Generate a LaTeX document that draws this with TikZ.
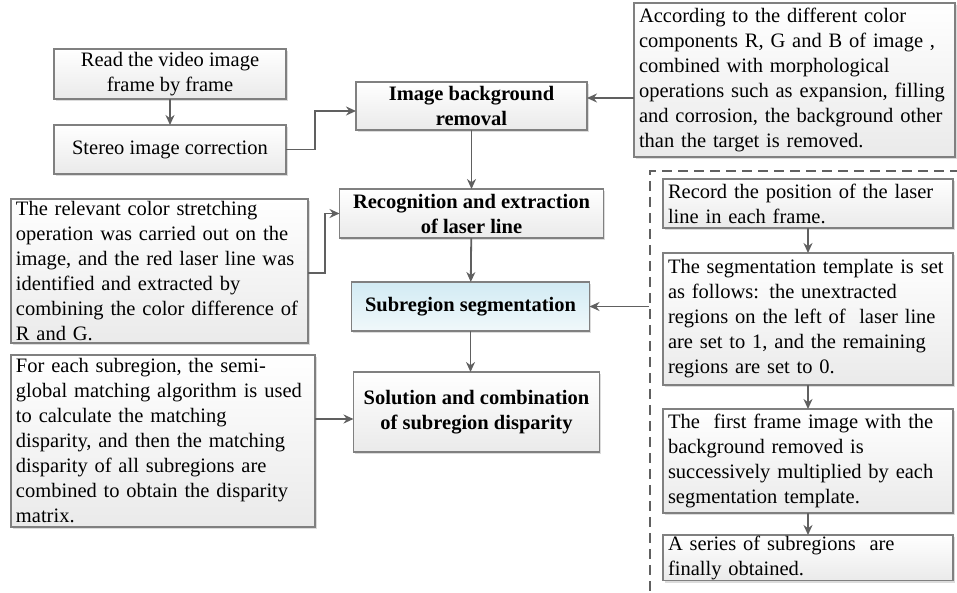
\documentclass[tikz,border=0pt]{standalone}
\usepackage{fontspec}
\setmainfont{Liberation Serif}
\usepackage{tikz}
\usetikzlibrary{arrows.meta, positioning, shadows}
\definecolor{EdgeGray}{RGB}{128,128,128}
\definecolor{ArrowGray}{RGB}{96,96,96}
\definecolor{PaleGray}{RGB}{234,234,234}
\definecolor{PaleCyan}{RGB}{210,235,244}
\definecolor{IceCyan}{RGB}{240,248,250}

\begin{document}
\begin{tikzpicture}[
  x=1pt, y=-1pt,
  font=\fontsize{20.5}{25}\selectfont,
  node distance=26pt,
  box/.style={rectangle, draw=EdgeGray, line width=1.2pt, outer sep=0pt,
              top color=white, bottom color=PaleGray,
              drop shadow={shadow xshift=1.8pt, shadow yshift=-1.8pt,
                           fill=black!30, opacity=0.45},
              inner xsep=5pt, inner ysep=1pt, align=center},
  textbox/.style={box, align=left},
  keybox/.style={box, font=\fontsize{20.5}{25}\selectfont\bfseries},
  hlbox/.style={keybox, top color=PaleCyan, bottom color=IceCyan},
  dashbox/.style={rectangle, draw=ArrowGray, line width=1.6pt,
                  dash pattern=on 10pt off 6pt},
  arrow/.style={-{Stealth[length=10pt, width=9pt]}, ArrowGray, line width=1.8pt}
]
\useasboundingbox (0,0) rectangle (957,593);

% Preprocessing on the left
\node[box, minimum width=232pt, minimum height=50pt] (read) at (170,74)
  {Read the video image\\frame by frame};
\node[box, minimum width=232pt, minimum height=49pt, below=26pt of read] (stereo)
  {Stereo image correction};

% Main chain
\node[keybox, minimum width=231pt, minimum height=48pt] (bgrm) at (471.5,106)
  {Image background\\removal};
\node[keybox, minimum width=264pt, minimum height=49pt, below=59pt of bgrm] (recog)
  {Recognition and extraction\\of laser line};
\node[hlbox, minimum width=238pt, minimum height=49pt, below=44pt of recog, xshift=-1pt] (subseg)
  {Subregion segmentation};
\node[keybox, minimum width=246pt, minimum height=80pt, below=41pt of subseg, xshift=6pt] (solut)
  {Solution and combination\\of subregion disparity};

% Notes
\node[textbox, text width=311pt, minimum height=154pt] (accord) at (794.5,80)
  {According to the different color\\components R, G and B of image ,\\combined with morphological\\operations such as expansion, filling\\and corrosion, the background other\\than the target is removed.};
\node[textbox, text width=287pt, minimum height=144pt] (relev) at (159.5,271)
  {The relevant color stretching\\operation was carried out on the\\image, and the red laser line was\\identified and extracted by\\combining the color difference of\\R and G.};
\node[textbox, text width=294pt, minimum height=172pt] (each) at (163,441)
  {For each subregion, the semi-\\global matching algorithm is used\\to calculate the matching\\disparity, and then the matching\\disparity of all subregions are\\combined to obtain the disparity\\matrix.};

% Segmentation steps
\node[dashbox, anchor=north west, minimum width=330pt, minimum height=450pt] (grp) at (649,170) {};
\node[textbox, text width=280pt, minimum height=49pt] (record) at (808,203.5)
  {Record the position of the laser\\line in each frame.};
\node[textbox, text width=280pt, minimum height=132pt, below=25pt of record] (templ)
  {The segmentation template is set\\as follows: the unextracted\\regions on the left of~ laser line\\are set to 1, and the remaining\\regions are set to 0.};
\node[textbox, text width=280pt, minimum height=104pt, below=24pt of templ] (first)
  {The~ first frame image with the\\background removed is\\successively multiplied by each\\segmentation template.};
\node[textbox, text width=280pt, minimum height=42pt, below=22pt of first] (series)
  {A series of subregions~ are\\finally obtained.};

% Arrows
\coordinate (eachout) at ([yshift=22pt]each.east);
\draw[arrow] (read) -- (stereo);
\draw[arrow] (stereo.east) -- ++(29,0) |- ([yshift=-5pt]bgrm.west);
\draw[arrow] ([yshift=-18pt]accord.west) -- ([yshift=8pt]bgrm.east);
\draw[arrow] (bgrm) -- (recog);
\draw[arrow] ([yshift=-2pt]relev.east) -- ++(17,0) |- (recog.west);
\draw[arrow] (recog) -- (subseg);
\draw[arrow] (grp.west |- subseg) -- (subseg.east);
\draw[arrow] (subseg.south) -- (subseg.south |- solut.north);
\draw[arrow] (eachout) -- (eachout -| solut.west);
\draw[arrow] (record) -- (templ);
\draw[arrow] (templ) -- (first);
\draw[arrow] (first) -- (series);

\end{tikzpicture}
\end{document}
